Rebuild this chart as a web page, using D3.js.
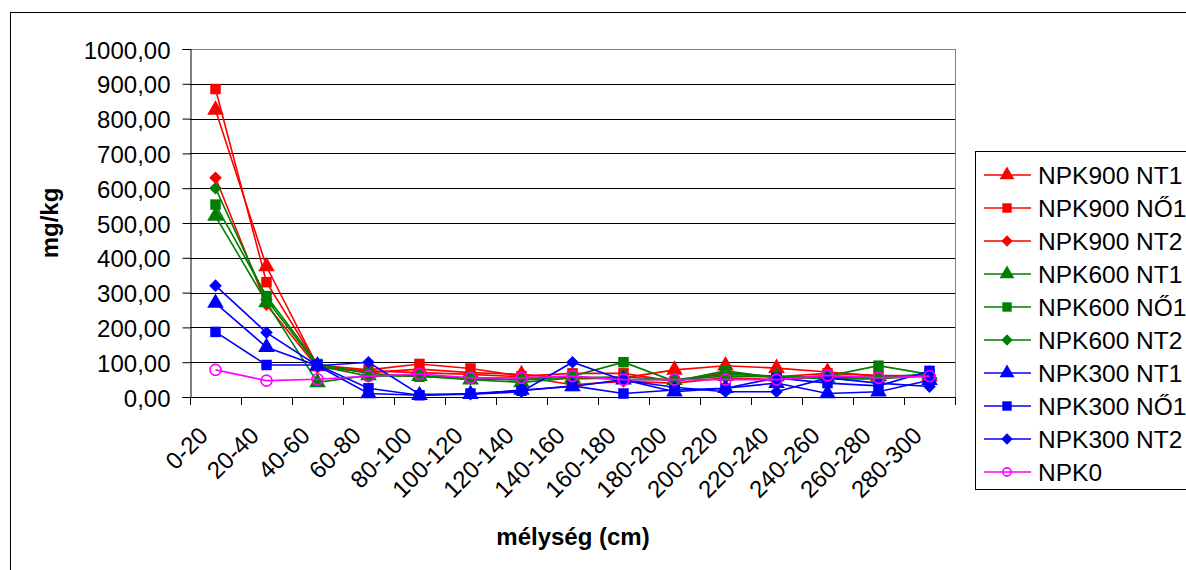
<!DOCTYPE html>
<html>
<head>
<meta charset="utf-8">
<script src="https://cdn.jsdelivr.net/npm/d3@7"></script>
<style>
  body { margin: 0; background: #fff; }
  svg { font-family: "Liberation Sans", Arial, sans-serif; }
</style>
</head>
<body>
<div id="container"></div>
<script>
/* DATA */
const depths = ["0-20", "20-40", "40-60", "60-80", "80-100", "100-120", "120-140",
  "140-160", "160-180", "180-200", "200-220", "220-240", "240-260", "260-280", "280-300"];

const npk900nt1 = [825, 375, 88, 70, 80, 70, 65, 52, 55, 78, 90, 83, 72, 60, 58];
const npk900no1 = [885, 330, 92, 78, 95, 82, 60, 68, 68, 45, 70, 58, 68, 62, 60];
const npk900nt2 = [630, 265, 85, 75, 70, 65, 58, 35, 45, 40, 55, 50, 58, 55, 62];
const npk600nt1 = [520, 272, 42, 62, 60, 50, 42, 55, 58, 48, 60, 58, 55, 58, 65];
const npk600no1 = [553, 290, 95, 68, 58, 55, 48, 60, 100, 45, 75, 55, 60, 90, 65];
const npk600nt2 = [600, 280, 90, 60, 62, 52, 50, 58, 50, 50, 65, 60, 52, 52, 62];
const npk300nt1 = [270, 143, 90, 10, 5, 8, 20, 30, 50, 15, 25, 40, 10, 15, 48];
const npk300no1 = [187, 92, 92, 25, 5, 10, 18, 32, 10, 20, 25, 55, 40, 32, 75];
const npk300nt2 = [320, 185, 90, 100, 8, 8, 15, 100, 48, 28, 15, 15, 55, 40, 30];
const npk0 = [78, 47, 51, 60, 66, 55, 55, 60, 50, 50, 50, 50, 62, 55, 60];

const yTicks = [0, 100, 200, 300, 400, 500, 600, 700, 800, 900, 1000];

const series = [
  { name: "NPK900 NT1", values: npk900nt1, color: "#ff0000", shape: "triangle" },
  { name: "NPK900 NŐ1", values: npk900no1, color: "#ff0000", shape: "square" },
  { name: "NPK900 NT2", values: npk900nt2, color: "#ff0000", shape: "diamond" },
  { name: "NPK600 NT1", values: npk600nt1, color: "#008000", shape: "triangle" },
  { name: "NPK600 NŐ1", values: npk600no1, color: "#008000", shape: "square" },
  { name: "NPK600 NT2", values: npk600nt2, color: "#008000", shape: "diamond" },
  { name: "NPK300 NT1", values: npk300nt1, color: "#0000ff", shape: "triangle" },
  { name: "NPK300 NŐ1", values: npk300no1, color: "#0000ff", shape: "square" },
  { name: "NPK300 NT2", values: npk300nt2, color: "#0000ff", shape: "diamond" },
  { name: "NPK0", values: npk0, color: "#ff00ff", shape: "circle" }
];

/* CONSTANTS */
const width = 1186, height = 570;
const plot = { left: 190, right: 955, top: 49, bottom: 397 };
const fontSize = 24;

const svg = d3.select("#container").append("svg")
  .attr("width", width)
  .attr("height", height);

// outer chart border
svg.append("rect")
  .attr("x", 10.5).attr("y", 12.5)
  .attr("width", width).attr("height", height)
  .attr("fill", "none").attr("stroke", "#000").attr("stroke-width", 1);

// SCALES
const xScale = d3.scaleBand()
  .domain(depths)
  .range([plot.left, plot.right]);

const yScale = d3.scaleLinear()
  .domain([0, 1000])
  .range([plot.bottom, plot.top]);

const cx = d => xScale(d) + xScale.bandwidth() / 2;

// gridlines
svg.append("g")
  .selectAll("line")
  .data(yTicks.filter(d => d > 0))
  .join("line")
  .attr("x1", plot.left).attr("x2", plot.right)
  .attr("y1", d => Math.round(yScale(d)) + 0.5)
  .attr("y2", d => Math.round(yScale(d)) + 0.5)
  .attr("stroke", d => d === 1000 ? "#808080" : "#000")
  .attr("stroke-width", 1);

// right plot border
svg.append("line")
  .attr("x1", plot.right + 0.5).attr("x2", plot.right + 0.5)
  .attr("y1", plot.top).attr("y2", plot.bottom)
  .attr("stroke", "#808080");

// AXES
const yAxis = d3.axisLeft(yScale)
  .tickValues(yTicks)
  .tickSize(8)
  .tickFormat(d => d3.format(".2f")(d).replace(".", ","));

svg.append("g")
  .attr("transform", `translate(${plot.left + 0.5},0)`)
  .call(yAxis)
  .call(g => g.select(".domain").attr("stroke", "#000"))
  .call(g => g.selectAll(".tick line").attr("stroke", "#000"))
  .call(g => g.selectAll("text")
    .attr("font-size", fontSize).attr("fill", "#000").attr("x", -20).attr("dy", "0.38em"));

// x axis line and ticks between categories
svg.append("line")
  .attr("x1", plot.left).attr("x2", plot.right + 1)
  .attr("y1", plot.bottom + 0.5).attr("y2", plot.bottom + 0.5)
  .attr("stroke", "#000");

const bounds = depths.map(d => xScale(d)).concat([plot.right]);
svg.append("g")
  .selectAll("line")
  .data(bounds)
  .join("line")
  .attr("x1", d => Math.round(d) + 0.5).attr("x2", d => Math.round(d) + 0.5)
  .attr("y1", plot.bottom).attr("y2", plot.bottom + 8)
  .attr("stroke", "#000");

svg.append("g")
  .selectAll("text")
  .data(depths)
  .join("text")
  .attr("transform", d => `translate(${cx(d) - 12},${plot.bottom + 34}) rotate(-45)`)
  .attr("text-anchor", "end")
  .attr("dy", "0.35em")
  .attr("font-size", fontSize)
  .text(d => d);

// axis titles
svg.append("text")
  .attr("transform", `translate(58,${(plot.top + plot.bottom) / 2}) rotate(-90)`)
  .attr("text-anchor", "middle")
  .attr("font-size", fontSize).attr("font-weight", "bold")
  .text("mg/kg");

svg.append("text")
  .attr("x", 573)
  .attr("y", 545)
  .attr("text-anchor", "middle")
  .attr("font-size", fontSize).attr("font-weight", "bold")
  .text("mélység (cm)");

// MARKERS
const symbolType = { triangle: d3.symbolTriangle, square: d3.symbolSquare, diamond: d3.symbolSquare, circle: d3.symbolCircle };
const symbolSize = { triangle: 120, square: 110, diamond: 80, circle: 95 };

function markerPath(s, k) {
  return d3.symbol().type(symbolType[s.shape]).size(symbolSize[s.shape] * k)();
}
function styleMarker(sel, s) {
  sel.attr("fill", s.shape === "circle" ? "none" : s.color)
    .attr("stroke", s.color)
    .attr("stroke-width", s.shape === "circle" ? 1.6 : 0);
}
const rot = s => s.shape === "diamond" ? " rotate(45)" : "";

// LINES
const line = d3.line()
  .x((d, i) => cx(depths[i]))
  .y(d => yScale(d));

const lines = svg.append("g");
series.forEach(s => {
  const g = lines.append("g");
  g.append("path")
    .attr("d", line(s.values))
    .attr("fill", "none")
    .attr("stroke", s.color)
    .attr("stroke-width", 1.6);
  g.selectAll("path.m")
    .data(s.values)
    .join("path")
    .attr("class", "m")
    .attr("d", markerPath(s, 1))
    .attr("transform", (d, i) => `translate(${cx(depths[i])},${yScale(d)})${rot(s)}`)
    .call(sel => styleMarker(sel, s));
});

// LEGEND
const legend = svg.append("g");
legend.append("rect")
  .attr("x", 975.5).attr("y", 151.5)
  .attr("width", 240).attr("height", 338)
  .attr("fill", "#fff").attr("stroke", "#000");

const item = legend.selectAll("g.item")
  .data(series)
  .join("g")
  .attr("class", "item")
  .attr("transform", (d, i) => `translate(0,${175 + i * 33})`);

item.append("line")
  .attr("x1", 984).attr("x2", 1031)
  .attr("stroke", d => d.color).attr("stroke-width", 1.6);

item.append("path")
  .attr("d", d => markerPath(d, d.shape === "circle" ? 0.55 : 0.8))
  .attr("transform", d => `translate(1007,0)${rot(d)}`)
  .each(function(d) { styleMarker(d3.select(this), d); });

item.append("text")
  .attr("x", 1038)
  .attr("dy", "0.36em")
  .attr("font-size", 24.5)
  .text(d => d.name);
</script>
</body>
</html>
